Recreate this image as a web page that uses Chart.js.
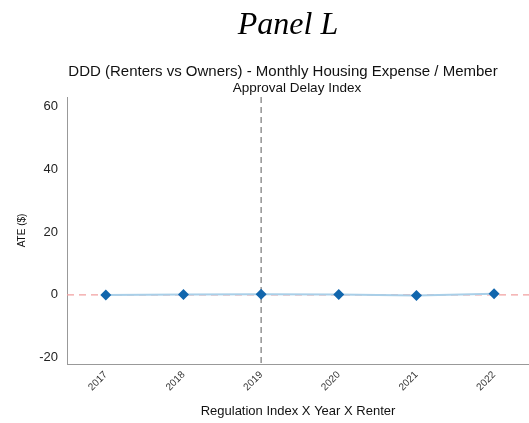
<!DOCTYPE html>
<html>
<head>
<meta charset="utf-8">
<script src="https://cdn.jsdelivr.net/npm/chart.js@4/dist/chart.umd.min.js"></script>
<style>
  html, body { margin: 0; padding: 0; background: #fff; }
  #wrap { position: relative; width: 529px; height: 423px; overflow: hidden; }
  canvas { position: absolute; left: 0; top: 0; }
  .t { position: absolute; white-space: nowrap; color: #111; transform: translate(-50%, -50%); line-height: 1; }
  #panel { left: 288px; top: 23px; font-family: "Liberation Serif", "DejaVu Serif", serif; font-style: italic; font-size: 32px; color: #000; }
  #main { left: 283px; top: 70px; font-family: "Liberation Sans", Arial, sans-serif; font-size: 15px; }
  #sub { left: 297px; top: 88px; font-family: "Liberation Sans", Arial, sans-serif; font-size: 13.5px; }
</style>
</head>
<body>
<div id="wrap">
  <canvas id="c" width="529" height="423"></canvas>
  <div class="t" id="panel">Panel L</div>
  <div class="t" id="main">DDD (Renters vs Owners) - Monthly Housing Expense / Member</div>
  <div class="t" id="sub">Approval Delay Index</div>
</div>
<script>
const years = [2017, 2018, 2019, 2020, 2021, 2022];
const ateValues = [0.0, 0.1, 0.2, 0.1, -0.2, 0.4];
const yTicks = [-20, 0, 20, 40, 60];
const zeroLineValue = 0;
const eventYear = 2019;
const xLabel = 'Regulation Index X Year X Renter';
const yLabel = 'ATE ($)';

const refLines = {
  id: 'refLines',
  beforeDatasetsDraw(chart) {
    const { ctx, chartArea, scales } = chart;
    ctx.save();
    ctx.lineWidth = 1.2;
    const y0 = scales.y.getPixelForValue(zeroLineValue);
    ctx.strokeStyle = '#f2a0a0';
    ctx.setLineDash([7, 5]);
    ctx.beginPath();
    ctx.moveTo(chartArea.left, y0);
    ctx.lineTo(chartArea.right, y0);
    ctx.stroke();
    const xv = scales.x.getPixelForValue(eventYear);
    ctx.strokeStyle = '#777';
    ctx.setLineDash([6, 4]);
    ctx.beginPath();
    ctx.moveTo(xv, chartArea.top);
    ctx.lineTo(xv, chartArea.bottom);
    ctx.stroke();
    ctx.restore();
  }
};

new Chart(document.getElementById('c'), {
  type: 'line',
  data: {
    datasets: [{
      data: years.map((yr, i) => ({ x: yr, y: ateValues[i] })),
      borderColor: '#a9cfe8',
      borderWidth: 2,
      pointStyle: 'rectRot',
      pointRadius: 5.5,
      pointBackgroundColor: '#1166ad',
      pointBorderColor: '#1166ad',
      pointBorderWidth: 0,
      tension: 0,
      clip: false
    }]
  },
  options: {
    responsive: false,
    animation: false,
    events: [],
    layout: { autoPadding: false, padding: { top: 97, right: 0, left: 0, bottom: 0 } },
    plugins: { legend: { display: false }, tooltip: { enabled: false }, title: { display: false } },
    scales: {
      x: {
        type: 'linear',
        min: 2016.5,
        max: 2022.45,
        grid: { display: false, drawTicks: false },
        border: { display: true, color: '#999', width: 1 },
        afterBuildTicks(scale) { scale.ticks = years.map(v => ({ value: v })); },
        afterFit(scale) { scale.height = 59; scale.paddingRight = 0; scale.paddingLeft = 0; },
        ticks: {
          minRotation: 45, maxRotation: 45,
          padding: 5,
          color: '#333',
          font: { family: '"Liberation Sans", Arial, sans-serif', size: 10 },
          callback: v => String(v)
        },
        title: {
          display: true, text: xLabel, color: '#111',
          font: { family: '"Liberation Sans", Arial, sans-serif', size: 13 },
          padding: { top: 2, bottom: 4 }
        }
      },
      y: {
        min: -22,
        max: 63,
        grid: { display: false, drawTicks: false },
        border: { display: true, color: '#999', width: 1 },
        afterBuildTicks(scale) { scale.ticks = yTicks.map(v => ({ value: v })); },
        afterFit(scale) { scale.width = 67; scale.paddingTop = 0; scale.paddingBottom = 0; },
        ticks: {
          padding: 9,
          color: '#222',
          font: { family: '"Liberation Sans", Arial, sans-serif', size: 13 }
        },
        title: {
          display: true, text: yLabel, color: '#111',
          font: { family: '"Liberation Sans", Arial, sans-serif', size: 10 },
          padding: { top: 16, bottom: 0 }
        }
      }
    }
  },
  plugins: [refLines]
});
</script>
</body>
</html>
